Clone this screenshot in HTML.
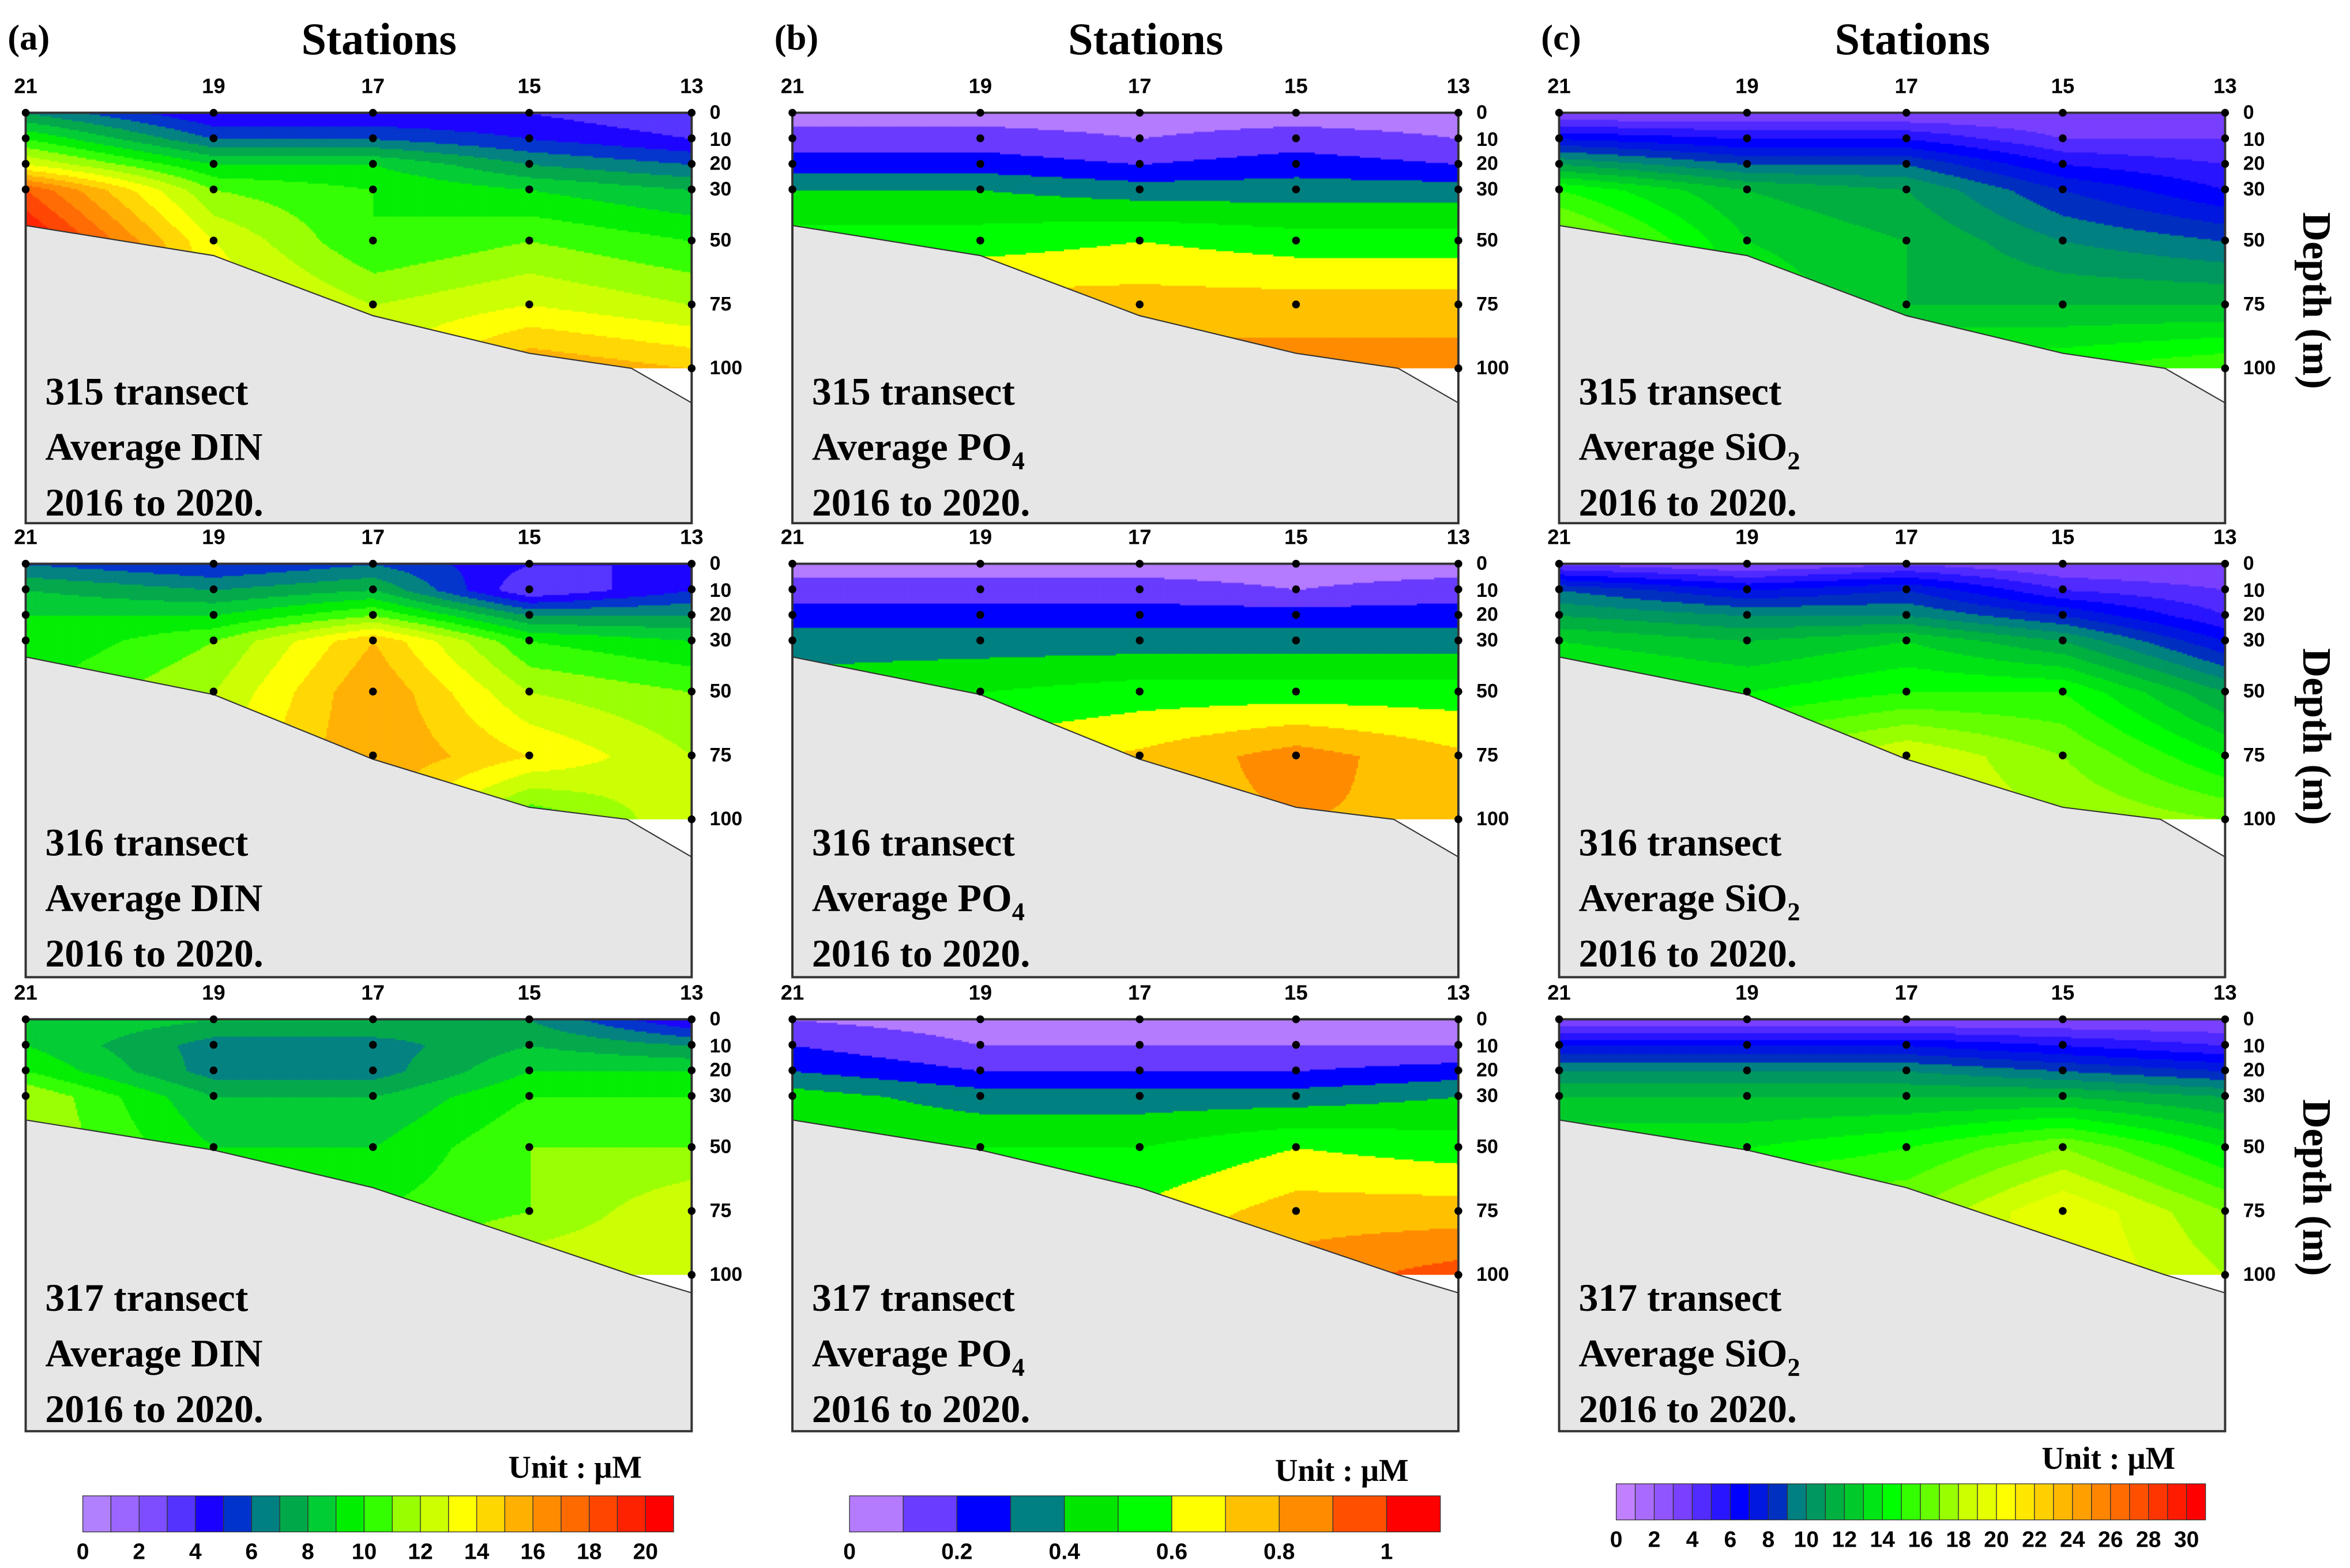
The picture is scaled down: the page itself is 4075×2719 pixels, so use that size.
<!DOCTYPE html>
<html><head><meta charset="utf-8">
<style>
html,body{margin:0;padding:0;background:#fff;}
#wrap{position:relative;width:4075px;height:2719px;overflow:hidden;background:#fff;}
#cv{position:absolute;left:0;top:0;}
#ov{position:absolute;left:0;top:0;}
</style></head>
<body>
<div id="wrap">
<canvas id="cv" width="4075" height="2719"></canvas>
<svg id="ov" width="4075" height="2719" viewBox="0 0 1563 1043" xmlns="http://www.w3.org/2000/svg"></svg>
</div>
<script>
// ---- data ----
const stations = ["21","19","17","15","13"];
const depths = [0,10,20,30,50,75,100];
const dinLevels = ["0","2","4","6","8","10","12","14","16","18","20"];
const poLevels = ["0","0.2","0.4","0.6","0.8","1"];
const siLevels = ["0","2","4","6","8","10","12","14","16","18","20","22","24","26","28","30"];
// values[station][depth]
const din315 = [[7,10,13,18,20.5,20.5,20.5],[4,6,9,11,13,14,14],[4,6,9,10,10,12,13],[4,5,7,9,11,13,16],[3,4,6,8,10,12,15]];
const din316 = [[6,8,9,9,10,10,10],[5,7,9,11,12,13,13],[6,8,11,15,16,16,15],[4,3,7,10,12,14,10],[4,5,7,9,11,12,13]];
const din317 = [[9,9,10,12,12,12,12],[8,6.5,6.5,8,9,9,10],[8,6.5,6.5,8,9,10,11],[7,8,9,10,11,11,13],[4,7,9,10,11,13,13]];
const po315 = [[0.05,0.15,0.25,0.4,0.55,0.55,0.55],[0.05,0.15,0.25,0.4,0.55,0.75,0.85],[0.05,0.1,0.2,0.35,0.6,0.75,0.85],[0.05,0.15,0.25,0.35,0.55,0.75,0.85],[0.05,0.1,0.2,0.35,0.55,0.75,0.85]];
const po316 = [[0.05,0.15,0.25,0.35,0.45,0.45,0.45],[0.05,0.15,0.25,0.35,0.5,0.65,0.7],[0.05,0.15,0.25,0.35,0.55,0.72,0.75],[0.05,0.1,0.25,0.35,0.55,0.85,0.8],[0.05,0.15,0.25,0.35,0.55,0.72,0.78]];
const po317 = [[0.1,0.2,0.3,0.45,0.5,0.5,0.5],[0.05,0.1,0.2,0.35,0.5,0.6,0.7],[0.05,0.1,0.2,0.35,0.5,0.62,0.72],[0.05,0.1,0.2,0.35,0.6,0.75,0.85],[0.05,0.1,0.25,0.4,0.55,0.75,0.95]];
const si315 = [[3,7,11,15,18,18,18],[3,6,9,12,13,14,15],[3,6,9,11,12,12,15],[3,4,6,8,10,12,15],[3,4,5,6,9,12,16]];
const si316 = [[4,9,11,13,15,15,15],[3,7,10,12,14,17,18],[4,8,10,13,15,19,19],[3,5,8,11,15,17,18],[3,4,5,7,11,14,17]];
const si317 = [[3,7,10,12,14,14,14],[3,7,10,12,14,17,18],[3,7,10,12,15,17,18],[3,6,9,12,17,20,20],[3,5,8,11,14,17,18]];

// ---- colormaps ----
const dinColors=["#b080ff","#9a66ff","#7d4dff","#5533ff","#1a00ff","#0033cc","#008080","#00a84a","#00cc33","#00ee00","#33ff00","#99ff00","#ccff00","#ffff00","#ffd700","#ffb000","#ff8c00","#ff6a00","#ff4500","#ff2200","#ff0000"];
const poColors=["#b57bff","#6a3cff","#0000ff","#008080","#00e600","#00ff00","#ffff00","#ffc000","#ff8c00","#ff5000","#ff0000"];
function interpAnchors(anchors,n){const out=[];for(let i=0;i<n;i++){let a=anchors[0],b=anchors[anchors.length-1];for(let k=0;k<anchors.length-1;k++){if(i>=anchors[k][0]&&i<=anchors[k+1][0]){a=anchors[k];b=anchors[k+1];break;}}const t=b[0]==a[0]?0:(i-a[0])/(b[0]-a[0]);const ca=hex(a[1]),cb=hex(b[1]);out.push("rgb("+ca.map((v,j)=>Math.round(v+(cb[j]-v)*t)).join(",")+")");}return out;}
function hex(h){return [parseInt(h.substr(1,2),16),parseInt(h.substr(3,2),16),parseInt(h.substr(5,2),16)];}
const siColors=interpAnchors([[0,"#c080ff"],[3,"#7a40ff"],[6,"#0000ff"],[8,"#0030c0"],[9,"#008080"],[11,"#00b040"],[14,"#00ff00"],[18,"#ccff00"],[20,"#ffff00"],[24,"#ffa000"],[27,"#ff5000"],[30,"#ff0000"]],31);

// ---- layout (display units, scaled x2.607) ----
const S=4075/1563;
const colX=[17,527,1037];
const rowY=[75,375,678];
const PW=443, PH=[273,275,274];
const stX=[0,125,231,335,443];
const DPM=1.7;
const floors=[[[0,75],[125,95],[231,135],[335,160],[403,170],[443,193]],[[0,62],[125,87],[231,130],[335,162],[400,170],[443,195]],[[0,67],[125,87],[231,112],[335,147],[403,170],[443,182]]];
const dataSets=[[din315,din316,din317],[po315,po316,po317],[si315,si316,si317]];
const cmaps=[{c:dinColors,step:1},{c:poColors,step:0.1},{c:siColors,step:1}];
const names=["DIN","PO","SiO"];

function val(g,dx,dep){let i=0;while(i<3&&dx>stX[i+1])i++;const tx=Math.min(1,Math.max(0,(dx-stX[i])/(stX[i+1]-stX[i])));let j=0;while(j<5&&dep>depths[j+1])j++;const ty=Math.min(1,Math.max(0,(dep-depths[j])/(depths[j+1]-depths[j])));const a=g[i][j]*(1-ty)+g[i][j+1]*ty;const b=g[i+1][j]*(1-ty)+g[i+1][j+1]*ty;return a*(1-tx)+b*tx;}

const ctx=document.getElementById('cv').getContext('2d');
for(let c=0;c<3;c++)for(let r=0;r<3;r++){
 const g=dataSets[c][r],cm=cmaps[c];
 const x0=colX[c]*S,y0=rowY[r]*S,w=PW*S,h=100*DPM*S;
 const st=3;
 for(let px=0;px<w;px+=st)for(let py=0;py<h;py+=st){
  const dx=px/S,dep=(py/S)/DPM;
  const v=val(g,dx,dep);
  let b=Math.floor(v/cm.step+1e-6);b=Math.max(0,Math.min(cm.c.length-1,b));
  ctx.fillStyle=cm.c[b];ctx.fillRect(x0+px,y0+py,st+0.5,st+0.5);
 }
}

const svg=document.getElementById('ov');const NS="http://www.w3.org/2000/svg";
function el(tag,attrs,text){const e=document.createElementNS(NS,tag);for(const k in attrs)e.setAttribute(k,attrs[k]);if(text!==undefined)e.textContent=text;svg.appendChild(e);return e;}
const serif='"Liberation Serif", serif', sans='"Liberation Sans", sans-serif';
const letters=["(a)","(b)","(c)"];const trans=["315","316","317"];
for(let c=0;c<3;c++){
 let t=el('text',{x:colX[c]-12,y:33,'font-family':serif,'font-weight':'bold','font-size':24},letters[c]);
 
 
 t=el('text',{x:colX[c]+235,y:36,'text-anchor':'middle','font-family':serif,'font-weight':'bold','font-size':30},"Stations");
 
 
 for(let r=0;r<3;r++){
  const x0=colX[c],y0=rowY[r];
  const fl=floors[r];
  let pts=fl.map(p=>(x0+p[0])+","+(y0+p[1]));
  pts.push((x0+PW)+","+(y0+PH[r]));pts.push(x0+","+(y0+PH[r]));
  let wr=el('rect',{x:x0,y:y0+170,width:PW,height:PH[r]-170,fill:'#fff'});
  
  
  let pg=el('polygon',{points:pts.join(" "),fill:'#e6e6e6',stroke:'#333','stroke-width':0.8});
  
  
  let bx=el('rect',{x:x0,y:y0,width:PW,height:PH[r],fill:'none',stroke:'#333','stroke-width':1.5});
  
  
  for(let s=0;s<5;s++){
   let lt=el('text',{x:x0+stX[s],y:y0-13,'text-anchor':'middle','font-family':sans,'font-weight':'bold','font-size':14},stations[s]);
   
   
   for(let d=0;d<depths.length;d++){
    const dy=depths[d]*DPM;
    let fy=0;for(let k=0;k<fl.length-1;k++){if(stX[s]>=fl[k][0]&&stX[s]<=fl[k+1][0]){fy=fl[k][1]+(fl[k+1][1]-fl[k][1])*(stX[s]-fl[k][0])/(fl[k+1][0]-fl[k][0]);break;}}
    if(dy<=fy+2){let dot=el('circle',{cx:x0+stX[s],cy:y0+dy,r:2.6,fill:'#000'});
     
     }
   }
  }
  for(let d=0;d<depths.length;d++){
   let dl=el('text',{x:x0+PW+12,y:y0+depths[d]*DPM+(d==1?5:4),'font-family':sans,'font-weight':'bold','font-size':13},String(depths[d]));
   
   
  }
  const lab=el('text',{x:x0+13,y:y0+194,'font-family':serif,'font-weight':'bold','font-size':26});
  
  
  const ln=[trans[r]+" transect","Average "+names[c],"2016 to 2020."];
  ln.forEach((s,i)=>{const ts=document.createElementNS(NS,'tspan');ts.setAttribute('x',x0+13);ts.setAttribute('y',y0+194+i*37);ts.textContent=s;lab.appendChild(ts);
   if(i==1&&c>0){const sb=document.createElementNS(NS,'tspan');sb.setAttribute('font-size',17);sb.setAttribute('dy',6);sb.textContent=c==1?"4":"2";lab.appendChild(sb);}});
 }
}
[200,490,790].forEach(cy=>{let t=el('text',{x:1532,y:cy,'text-anchor':'middle','font-family':serif,'font-weight':'bold','font-size':27,transform:'rotate(90 1532 '+cy+')'},"Depth (m)");
 
 });

// colorbars
const cbs=[{x:55,w:393,y:995,levels:dinColors,labels:dinLevels,max:21,ux:338,uy:983},{x:565,w:393,y:995,levels:poColors,labels:poLevels,max:1.1,ux:848,uy:985},{x:1075,w:392,y:987,levels:siColors,labels:siLevels,max:31,ux:1358,uy:977}];
cbs.forEach((cb,i)=>{
 const n=cb.levels.length,bw=cb.w/n;
 cb.levels.forEach((col,k)=>{let r=el('rect',{x:cb.x+k*bw,y:cb.y,width:bw,height:24,fill:col,stroke:'#333','stroke-width':0.5});
  
  });
 cb.labels.forEach((l,k)=>{const v=parseFloat(l);let t=el('text',{x:cb.x+cb.w*v/cb.max,y:cb.y+42,'text-anchor':'middle','font-family':sans,'font-weight':'bold','font-size':15},l);
  
  });
 let u=el('text',{x:cb.ux,y:cb.uy,'font-family':serif,'font-weight':'bold','font-size':21},"Unit : μM");
 
 
});
</script>
</body></html>
